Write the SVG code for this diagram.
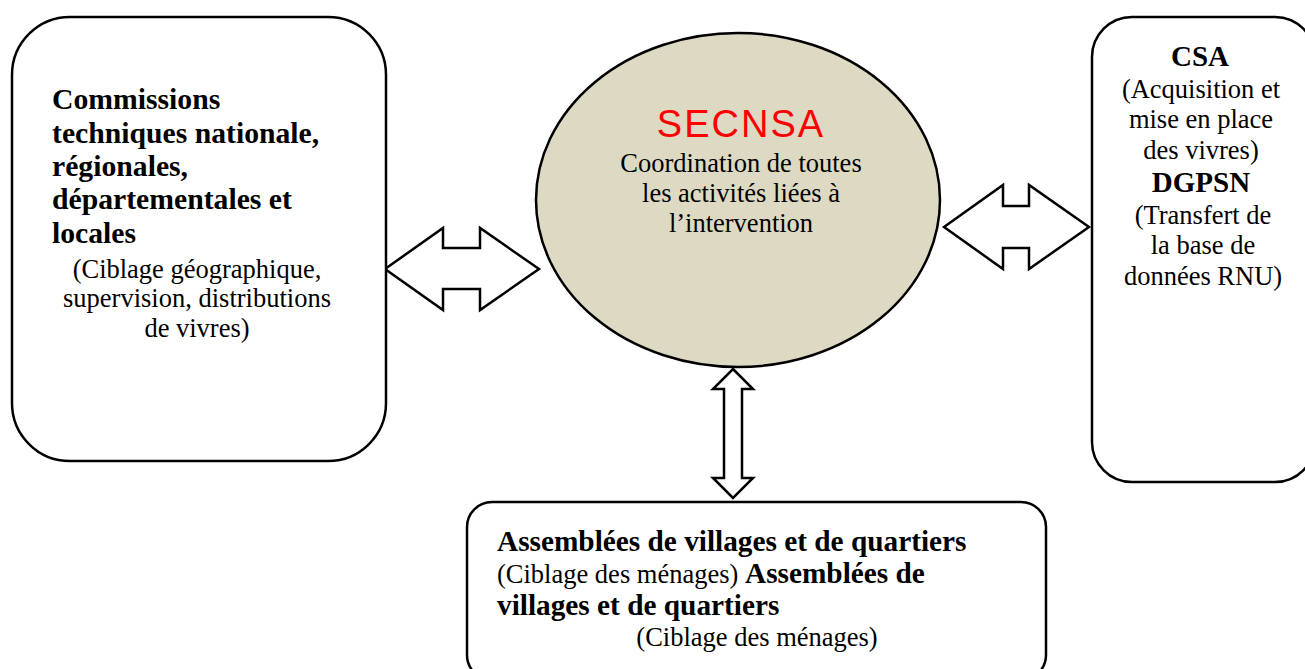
<svg xmlns="http://www.w3.org/2000/svg" width="1305" height="669" viewBox="0 0 1305 669">
<style>
.box{fill:#fff;stroke:#000;stroke-width:2.5}
.arr{fill:#fff;stroke:#000;stroke-width:2.5;stroke-linejoin:miter}
.b{font-family:"Liberation Serif","Times New Roman",serif;font-weight:bold;font-size:29.3px;fill:#000}
.bl{font-family:"Liberation Serif","Times New Roman",serif;font-weight:bold;font-size:29.7px;fill:#000}
.r{font-family:"Liberation Serif","Times New Roman",serif;font-size:26.5px;fill:#000}
.rc{font-family:"Liberation Serif","Times New Roman",serif;font-size:26.5px;fill:#000;text-anchor:middle}
.bc{font-family:"Liberation Serif","Times New Roman",serif;font-weight:bold;font-size:29px;fill:#000;text-anchor:middle}
.e{font-family:"Liberation Serif","Times New Roman",serif;font-size:26.5px;fill:#000;text-anchor:middle}
</style>
<rect width="1305" height="669" fill="#fff"/>
<g id="connectors">
<polygon class="arr" points="385,269 443,228 443,248 480,248 480,228 539,269 480,310 480,289 443,289 443,310"/>
<polygon class="arr" points="944,227 1003,185 1003,206 1029,206 1029,185 1089,227 1029,269 1029,248 1003,248 1003,269"/>
<polygon class="arr" points="733,369 753,389 742,389 742,478 753,478 733,498 713,478 724,478 724,389 713,389"/>
</g>
<g id="commissions">
<rect class="box" x="12" y="17" width="374" height="444" rx="58" ry="58"/>
<text class="bl" x="52" y="109">Commissions</text>
<text class="bl" x="52" y="143">techniques nationale,</text>
<text class="bl" x="52" y="176">régionales,</text>
<text class="bl" x="52" y="209">départementales et</text>
<text class="bl" x="52" y="243">locales</text>
<text class="rc" x="197" y="278">(Ciblage géographique,</text>
<text class="rc" x="197" y="307">supervision, distributions</text>
<text class="rc" x="197" y="337">de vivres)</text>
</g>
<g id="secnsa">
<ellipse cx="738" cy="200" rx="202" ry="167" fill="#DDD9C3" stroke="#000" stroke-width="2.5"/>
<text x="741" y="137" font-family="'Liberation Sans',Arial,sans-serif" font-size="38px" letter-spacing="2" fill="#FF0000" text-anchor="middle">SECNSA</text>
<text class="e" x="741" y="172">Coordination de toutes</text>
<text class="e" x="741" y="202">les activités liées à</text>
<text class="e" x="741" y="232">l’intervention</text>
</g>
<g id="csa">
<rect class="box" x="1092" y="17" width="223" height="465" rx="40" ry="40"/>
<text class="bc" x="1200" y="66">CSA</text>
<text class="rc" x="1201" y="98">(Acquisition et</text>
<text class="rc" x="1201" y="128">mise en place</text>
<text class="rc" x="1201" y="159">des vivres)</text>
<text class="bc" x="1201" y="192">DGPSN</text>
<text class="rc" x="1203" y="224">(Transfert de</text>
<text class="rc" x="1203" y="254">la base de</text>
<text class="rc" x="1203" y="285">données RNU)</text>
</g>
<g id="assemblees">
<rect class="box" x="467" y="502" width="579" height="178" rx="25" ry="25"/>
<text class="b" x="497" y="551">Assemblées de villages et de quartiers</text>
<text x="497" y="583"><tspan class="r">(Ciblage des ménages) </tspan><tspan class="b">Assemblées de</tspan></text>
<text class="b" x="497" y="615">villages et de quartiers</text>
<text class="rc" x="757" y="646">(Ciblage des ménages)</text>
</g>
</svg>
